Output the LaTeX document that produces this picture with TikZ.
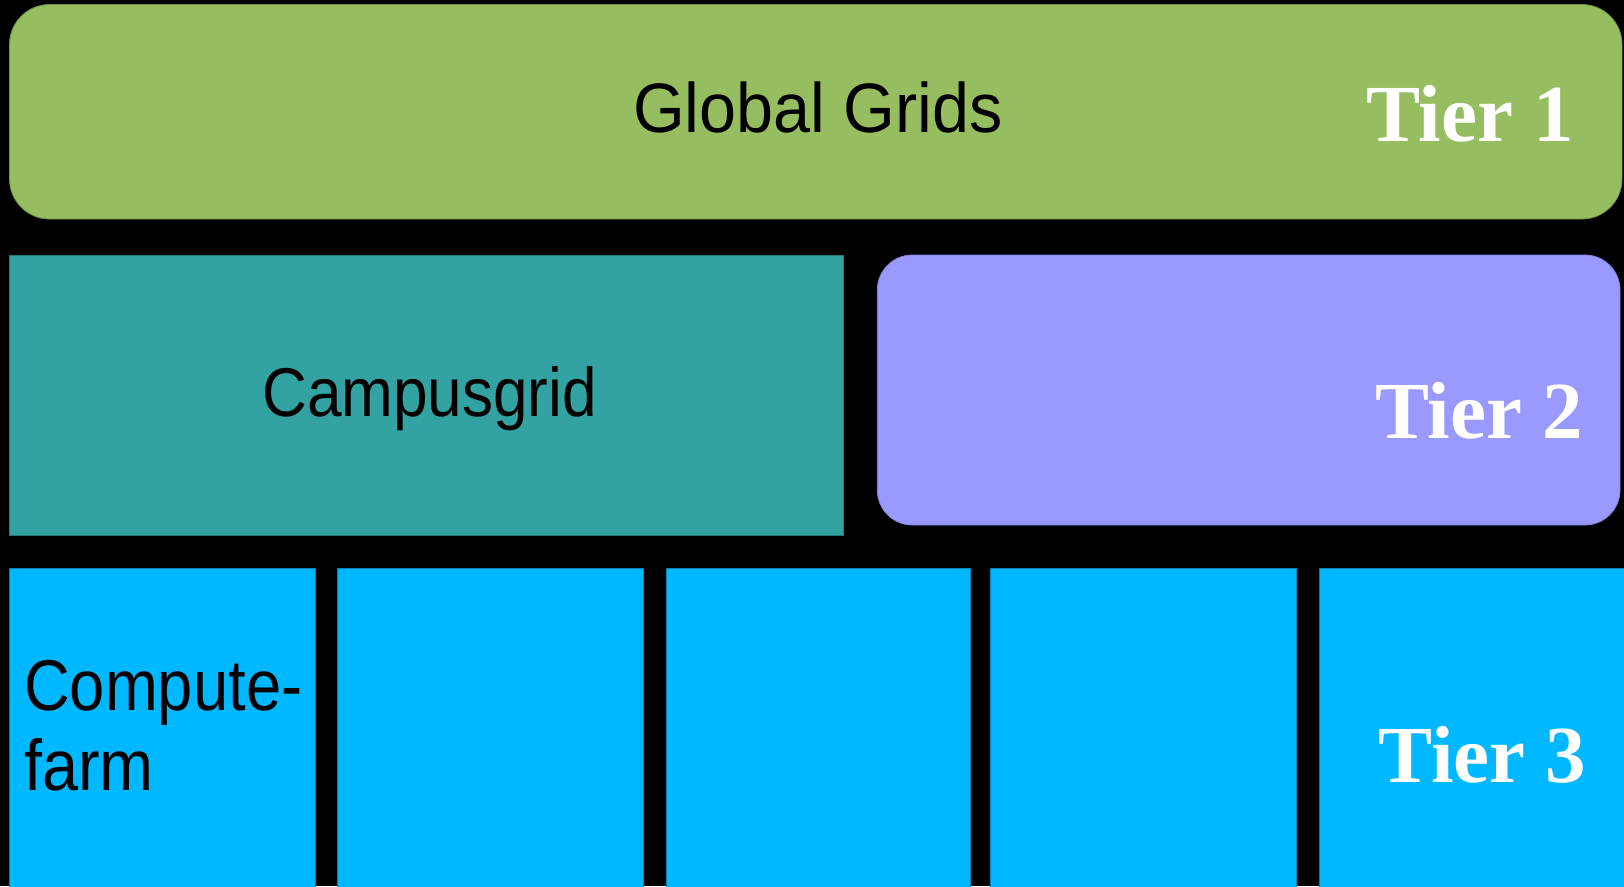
\documentclass[tikz,border=0pt]{standalone}
\usepackage{fontspec}
\usepackage{graphicx}
\setmainfont{Liberation Serif}
\newfontfamily\arialf{Liberation Sans}
\definecolor{gridgreen}{RGB}{150,190,96}
\definecolor{campusteal}{RGB}{50,162,162}
\definecolor{tierpurple}{RGB}{153,153,255}
\definecolor{farmblue}{RGB}{0,184,255}
\tikzset{
  panel/.style={rectangle, inner sep=0pt, line width=0.8pt},
  greenpanel/.style={panel, fill=gridgreen, draw=gridgreen!75!black, rounded corners=40pt},
  tealpanel/.style={panel, fill=campusteal, draw=campusteal!75!black},
  purplepanel/.style={panel, fill=tierpurple, draw=tierpurple!85!black, rounded corners=35pt},
  bluepanel/.style={panel, fill=farmblue, draw=farmblue!70!black},
  sanslabel/.style={anchor=base west, inner sep=0pt, text=black},
  tierlabel/.style={anchor=base west, inner sep=0pt, text=white, font=\fontsize{81}{90}\selectfont\bfseries}
}
\begin{document}
\begin{tikzpicture}[x=1pt,y=-1pt]
\fill[black] (0,0) rectangle (1624,886);
\useasboundingbox (0,0) rectangle (1624,886);
% Tier 1
\node[greenpanel, minimum width=1612.5pt, minimum height=214.5pt] (global) at (815.75,111.75) {};
% Tier 2
\node[tealpanel, minimum width=833.8pt, minimum height=280.7pt] (campus) at (426.4,395.35) {};
\node[purplepanel, minimum width=742.7pt, minimum height=270pt] (tier2box) at (1248.65,390) {};
% Tier 3
\begin{scope}
\clip (0,0) rectangle (1624,886);
\node[bluepanel, minimum width=305.5pt, minimum height=320pt, anchor=north] (farm1) at (162.25,567.7) {};
\node[bluepanel, minimum width=305.6pt, minimum height=320pt, anchor=north] (farm2) at (490.5,567.7) {};
\node[bluepanel, minimum width=303.3pt, minimum height=320pt, anchor=north] (farm3) at (818.35,567.7) {};
\node[bluepanel, minimum width=305.3pt, minimum height=320pt, anchor=north] (farm4) at (1143.35,567.7) {};
\node[bluepanel, minimum width=310pt, minimum height=320pt, anchor=north west] (farm5) at (1319.3,567.7) {};
\end{scope}
% labels
\node[sanslabel] (globaltxt) at (633,132.7) {\arialf\fontsize{70}{80}\selectfont\scalebox{0.95}[1]{Global Grids}};
\node[sanslabel] (campustxt) at (262,416) {\arialf\fontsize{69}{80}\selectfont\scalebox{0.90}[1]{Campusgrid}};
\node[sanslabel] (farmtxta) at (24,710) {\arialf\fontsize{72}{80}\selectfont\scalebox{0.88}[1]{Compute-}};
\node[sanslabel] (farmtxtb) at (24,790) {\arialf\fontsize{72}{80}\selectfont\scalebox{0.90}[1]{farm}};
\node[tierlabel] (t1) at (1366,141.7) {Tier 1};
\node[tierlabel] (t2) at (1375,438.3) {Tier 2};
\node[tierlabel] (t3) at (1378.5,782.7) {Tier 3};
\end{tikzpicture}
\end{document}
